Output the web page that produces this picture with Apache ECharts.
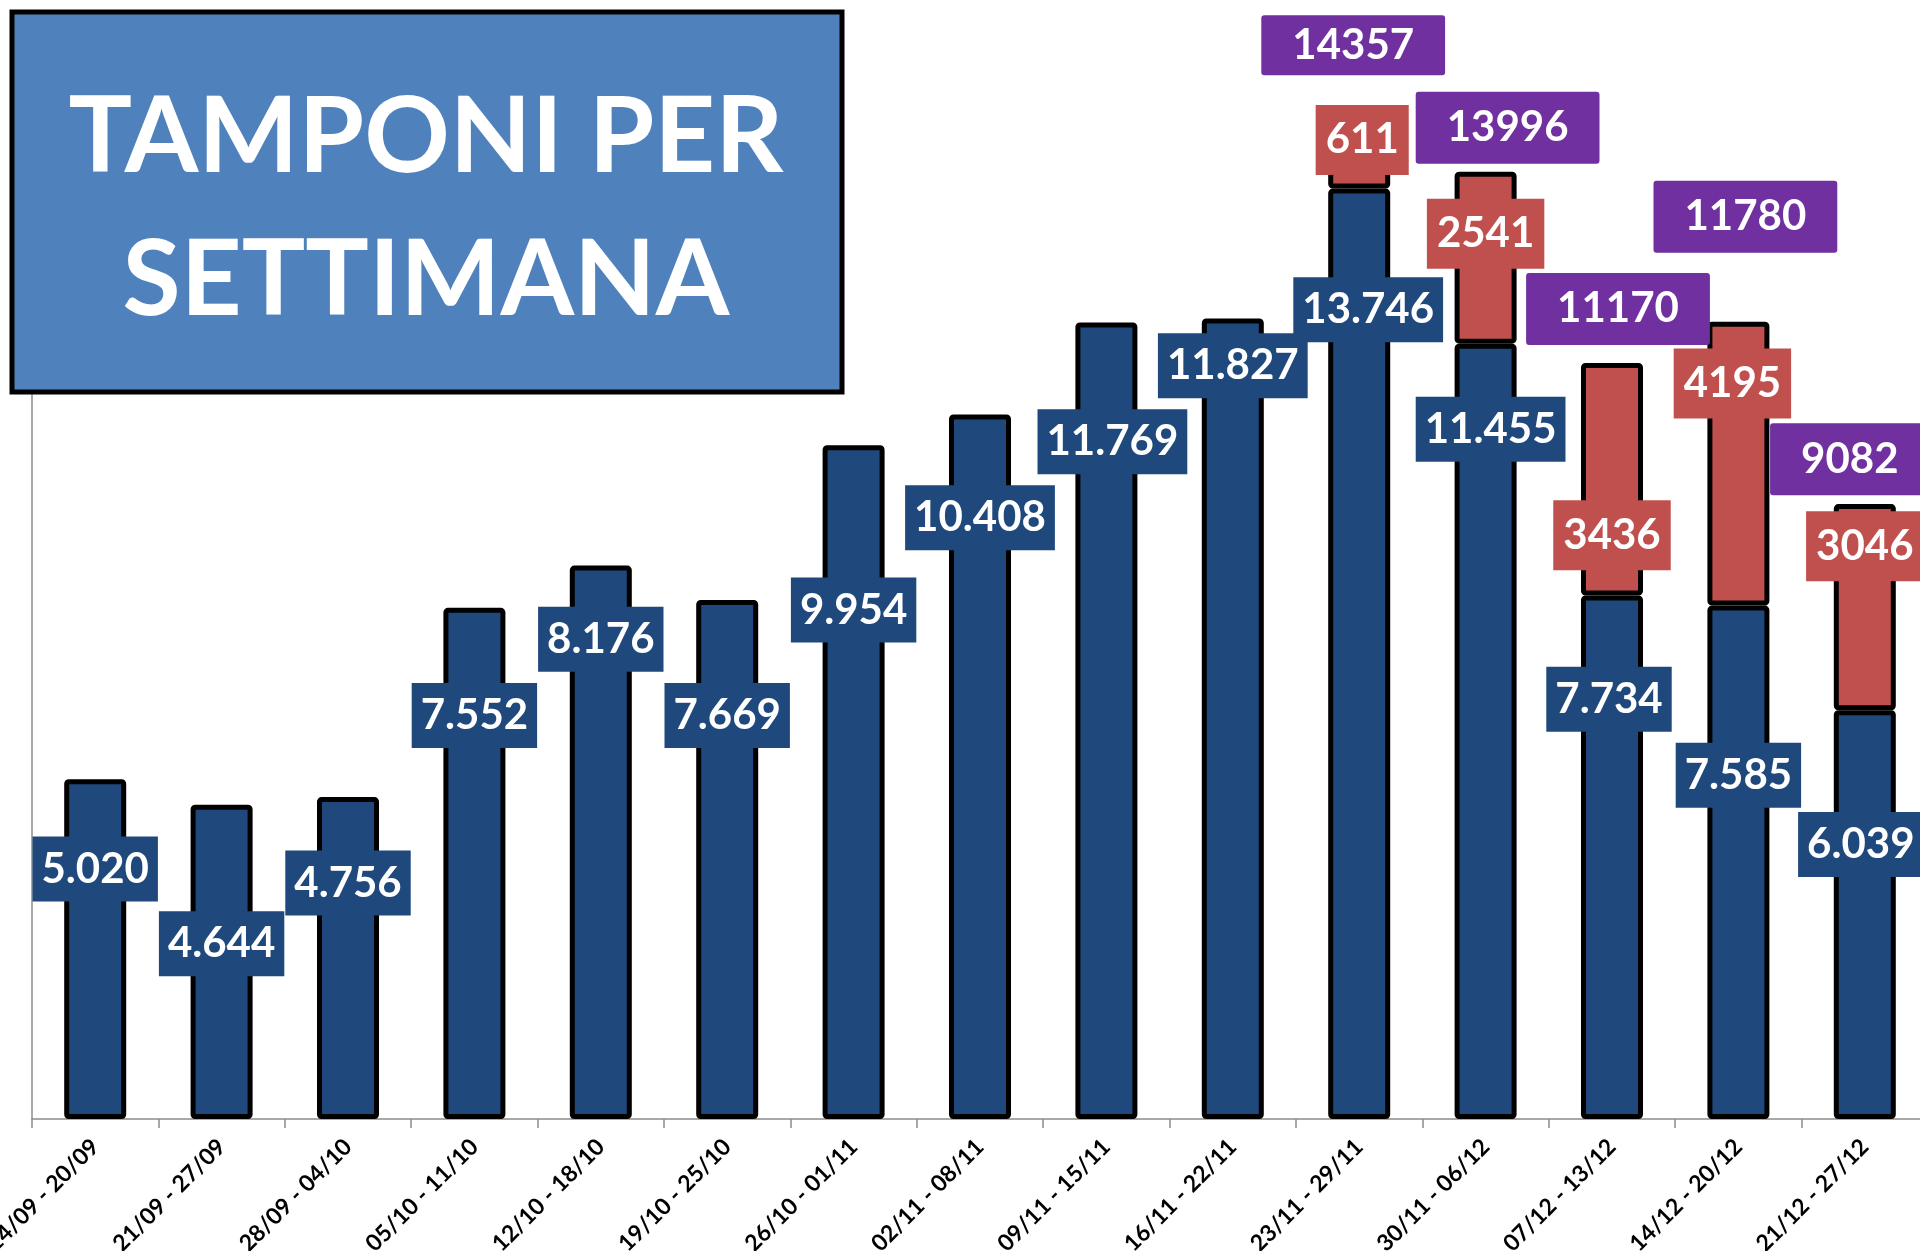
<!DOCTYPE html>
<html lang="it">
<head>
    <meta charset="UTF-8">
    <title>Tamponi per settimana</title>
    <script src="https://cdn.jsdelivr.net/npm/echarts@6/dist/echarts.min.js"></script>
    <style>
        html, body { margin: 0; padding: 0; background: #fff; }
        #chart { width: 1920px; height: 1251px; }
    </style>
</head>
<body>
<div id="chart"></div>
<script type="text/javascript">
// settimane
var weeks = ['14/09 - 20/09', '21/09 - 27/09', '28/09 - 04/10', '05/10 - 11/10', '12/10 - 18/10',
    '19/10 - 25/10', '26/10 - 01/11', '02/11 - 08/11', '09/11 - 15/11', '16/11 - 22/11',
    '23/11 - 29/11', '30/11 - 06/12', '07/12 - 13/12', '14/12 - 20/12', '21/12 - 27/12'];
// tamponi (blu)
var tamponi = [5020, 4644, 4756, 7552, 8176, 7669, 9954, 10408, 11769, 11827, 13746, 11455, 7734, 7585, 6039];
// parte rossa sopra
var extra = ['-', '-', '-', '-', '-', '-', '-', '-', '-', '-', 611, 2541, 3436, 4195, 3046];
// totali (viola)
var totali = ['-', '-', '-', '-', '-', '-', '-', '-', '-', '-', 14357, 13996, 11170, 11780, 9082];

// spostamento etichette (px), come sistemate a mano nel grafico originale
var blueOff = [[0, -80], [0, -18], [0, -75], [0, -148], [0, -203], [0, -144], [0, -172], [0, -249],
    [6, -279], [0, -353], [9, -344], [5, -302], [-3, -158], [0, -87], [-4, -70]];
var redOff = [[3, -28], [0, -24], [0, 56], [-6, -80], [0, -61]];
var purpleOff = [[-6, -102], [22, -44], [6, -54], [7, -105], [-15, -45]];

var FONT = 'Lato, "Open Sans", sans-serif';

function puntini(v) {
    var s = String(v);
    return s.length > 3 ? s.slice(0, s.length - 3) + '.' + s.slice(s.length - 3) : s;
}

var blueData = tamponi.map(function (v, i) {
    return { value: v, label: { offset: blueOff[i] } };
});
var redData = extra.map(function (v, i) {
    if (v === '-') return v;
    return { value: v, label: { offset: redOff[i - 10] } };
});
var purpleData = totali.map(function (v, i) {
    if (v === '-') return v;
    var item = { value: v, label: { offset: purpleOff[i - 10] } };
    if (i === 10) item.label.padding = [5, 31, 5, 31];
    return item;
});

var chart = echarts.init(document.getElementById('chart'));
var option = {
    animation: false,
    backgroundColor: '#ffffff',
    grid: { left: 32, right: -8, top: 36, bottom: 132, containLabel: false, outerBoundsMode: 'none' },
    xAxis: {
        type: 'category',
        data: weeks,
        boundaryGap: true,
        axisLine: { lineStyle: { color: '#8c8c8c', width: 1.5 } },
        axisTick: { show: true, length: 9, lineStyle: { color: '#8c8c8c', width: 1.5 } },
        axisLabel: {
            rotate: 45, margin: 24, interval: 0,
            color: '#000', fontFamily: FONT, fontWeight: 'bold', fontSize: 23
        }
    },
    yAxis: {
        type: 'value', min: 0, max: 16000,
        axisLine: { show: true, lineStyle: { color: '#8c8c8c', width: 1.5 } },
        axisTick: { show: false },
        axisLabel: { show: false },
        splitLine: { show: false }
    },
    graphic: [{
        type: 'rect', z: 100, zlevel: 1,
        shape: { x: 12, y: 12, width: 830, height: 380 },
        style: { fill: '#4F81BD', stroke: '#000', lineWidth: 5 }
    }, {
        type: 'text', z: 101, zlevel: 1,
        style: {
            x: 426, y: 209, text: 'TAMPONI PER\nSETTIMANA',
            textAlign: 'center', textVerticalAlign: 'middle',
            fill: '#fff', font: 'bold 106px ' + FONT, lineHeight: 143
        }
    }],
    series: [{
        name: 'Tamponi',
        type: 'bar',
        stack: 'tot',
        barWidth: 62,
        data: blueData,
        itemStyle: { color: '#1F497D', borderColor: '#000', borderWidth: 5, borderRadius: 2 },
        label: {
            show: true, position: 'inside',
            formatter: function (p) { return puntini(p.value); },
            color: '#fff', fontFamily: FONT, fontWeight: 'bold', fontSize: 42, lineHeight: 51,
            backgroundColor: '#1F497D', padding: [7, 9, 7, 9]
        }
    }, {
        name: 'Extra',
        type: 'bar',
        stack: 'tot',
        barWidth: 62,
        data: redData,
        itemStyle: { color: '#C0504D', borderColor: '#000', borderWidth: 5, borderRadius: 2 },
        label: {
            show: true, position: 'inside',
            color: '#fff', fontFamily: FONT, fontWeight: 'bold', fontSize: 42, lineHeight: 50,
            backgroundColor: '#C0504D', padding: [10, 10, 10, 10]
        }
    }, {
        name: 'Totale',
        type: 'scatter',
        symbolSize: 0,
        data: purpleData,
        z: 10,
        itemStyle: { opacity: 1 },
        label: {
            show: true, position: 'inside',
            color: '#fff', fontFamily: FONT, fontWeight: 'bold', fontSize: 42, lineHeight: 50,
            backgroundColor: '#7030A0', borderRadius: 3, padding: [11, 31, 11, 31]
        }
    }]
};
chart.setOption(option);
</script>
</body>
</html>
